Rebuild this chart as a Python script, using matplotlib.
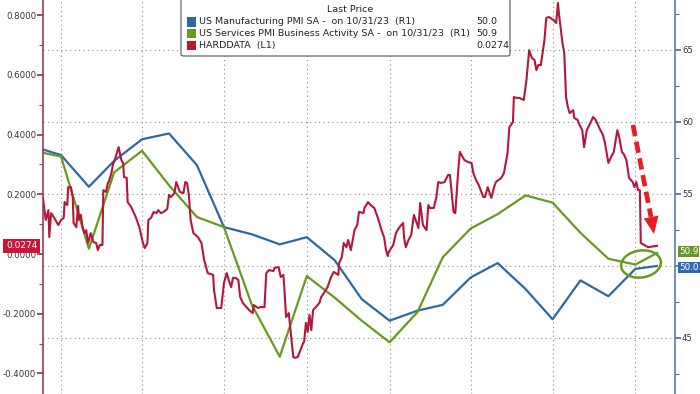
import matplotlib
matplotlib.use('Agg')
import matplotlib.pyplot as plt
import matplotlib.patches as mpatches
from matplotlib.lines import Line2D
from matplotlib.ticker import FormatStrFormatter, MultipleLocator
from matplotlib.transforms import IdentityTransform
import pandas as pd

plt.rcParams['font.family'] = ['DejaVu Sans']

# monthly PMI readings (latest flash plotted on its release day)
pmi_dates = ['2021-11-30', '2021-12-31', '2022-01-31', '2022-02-28', '2022-03-31',
             '2022-04-30', '2022-05-31', '2022-06-30', '2022-07-31', '2022-08-31',
             '2022-09-30', '2022-10-31', '2022-11-30', '2022-12-31', '2023-01-31',
             '2023-02-28', '2023-03-31', '2023-04-30', '2023-05-31', '2023-06-30',
             '2023-07-31', '2023-08-31', '2023-09-30', '2023-10-24']
mfg_pmi = [58.3, 57.7, 55.5, 57.3, 58.8, 59.2, 57.0, 52.7, 52.2, 51.5, 52.0, 50.4,
           47.7, 46.2, 46.9, 47.3, 49.2, 50.2, 48.4, 46.3, 49.0, 47.9, 49.8, 50.0]
svc_pmi = [58.0, 57.6, 51.2, 56.5, 58.0, 55.6, 53.4, 52.7, 47.3, 43.7, 49.3, 47.8,
           46.2, 44.7, 46.8, 50.6, 52.6, 53.6, 54.9, 54.4, 52.3, 50.5, 50.1, 50.9]

# HARDDATA index, days counted from 2021-12-11
hard_start = '2021-12-11'
hard_day = [0, 3, 6, 7, 9, 12, 17, 20, 23, 24,
            27, 28, 31, 33, 34, 37, 39, 40, 42, 44,
            46, 48, 50, 53, 56, 59, 61, 63, 66, 67,
            70, 72, 73, 76, 78, 79, 82, 84, 87, 89,
            90, 93, 94, 98, 103, 107, 111, 113, 116, 117,
            120, 123, 126, 128, 131, 134, 138, 140, 142, 146,
            148, 150, 152, 156, 158, 160, 162, 164, 167, 172,
            176, 179, 183, 189, 190, 193, 198, 201, 204, 207,
            209, 211, 214, 217, 219, 222, 226, 229, 233, 234,
            239, 241, 246, 248, 251, 256, 257, 261, 262, 264,
            267, 268, 270, 272, 273, 276, 278, 280, 283, 286,
            289, 290, 292, 294, 296, 298, 300, 303, 307, 309,
            312, 316, 318, 320, 323, 328, 329, 332, 334, 337,
            339, 342, 346, 349, 351, 356, 357, 361, 364, 368,
            372, 376, 379, 381, 383, 384, 389, 392, 396, 400,
            401, 403, 406, 409, 412, 417, 419, 422, 426, 428,
            430, 434, 437, 439, 442, 446, 450, 452, 456, 458,
            461, 463, 468, 472, 476, 478, 481, 484, 489, 491,
            494, 498, 501, 503, 509, 512, 516, 518, 522, 523,
            526, 529, 534, 537, 540, 543, 546, 548, 550, 553,
            557, 559, 562, 567, 570, 572, 573, 577, 579, 581,
            583, 585, 589, 590, 594, 595, 599, 601, 604, 608,
            611, 614, 618, 622, 624, 628, 631, 634, 638, 640,
            643, 645, 648, 651, 655, 657, 659, 661, 663, 664,
            668, 672, 682]
hard_val = [.188, .114, .147, .057, .137, .124, .097, .114, .121, .174,
            .164, .224, .224, .191, .104, .090, .161, .114, .131, .090,
            .070, .080, .037, .070, .040, .037, .013, .030, .030, .214,
            .208, .238, .241, .271, .305, .308, .338, .358, .315, .305,
            .258, .255, .174, .157, .124, .090, .037, .020, .037, .114,
            .121, .141, .137, .147, .137, .141, .151, .198, .191, .204,
            .241, .224, .208, .204, .241, .238, .198, .114, .070, .057,
            .037, -.020, -.064, -.070, -.121, -.181, -.181, -.097, -.064, -.094,
            -.111, -.080, -.080, -.087, -.144, -.164, -.178, -.188, -.198, -.171,
            -.181, -.178, -.178, -.064, -.054, -.057, -.047, -.044, -.047, -.077,
            -.070, -.111, -.211, -.204, -.198, -.288, -.345, -.348, -.345, -.322,
            -.298, -.295, -.231, -.261, -.204, -.255, -.188, -.178, -.164, -.144,
            -.131, -.111, -.094, -.077, -.060, -.070, -.030, -.010, .037, .023,
            .047, .013, .080, .097, .141, .137, .154, .174, .164, .154,
            .121, .080, .054, .013, -.007, .007, .030, .070, .090, .104,
            .057, .023, .047, .064, .131, .087, .171, .097, .080, .164,
            .154, .154, .191, .241, .238, .241, .265, .265, .141, .137,
            .271, .342, .315, .308, .305, .271, .248, .231, .191, .191,
            .224, .188, .224, .241, .255, .271, .338, .425, .442, .526,
            .523, .523, .516, .583, .683, .657, .650, .616, .633, .633,
            .717, .791, .794, .784, .774, .841, .807, .707, .673, .526,
            .492, .472, .482, .456, .449, .439, .415, .358, .415, .439,
            .459, .449, .422, .399, .375, .305, .325, .342, .415, .392,
            .342, .335, .315, .255, .241, .224, .241, .214, .214, .037,
            .030, .023, .0274]

grid_dates = ['2021-12-31', '2022-03-31', '2022-06-30', '2022-09-30',
              '2022-12-31', '2023-03-31', '2023-06-30', '2023-09-30']
right_ticks = [45, 50, 55, 60, 65]
right_labels = ['45', '', '55', '60', '65']  # "50" sits under the last-value tag

BLUE = '#2f68a0'
GREEN = '#679a1e'
RED = '#b3183a'

pmi_x = pd.to_datetime(pmi_dates)
hard_x = pd.Timestamp(hard_start) + pd.to_timedelta(hard_day, unit='D')

fig = plt.figure(figsize=(7, 3.94), dpi=100)
ax = fig.add_axes([43 / 700, 0, 632 / 700, 1])
axl = ax.twinx()
ax.yaxis.tick_right()
axl.yaxis.tick_left()

# PMI lines on the right scale
ax.plot(pmi_x, mfg_pmi, color=BLUE, lw=1.6)
ax.plot(pmi_x, svc_pmi, color=GREEN, lw=1.6)
ax.set_ylim(41.11, 68.47)
ax.set_yticks(right_ticks)
ax.set_yticklabels(right_labels)
ax.yaxis.set_minor_locator(MultipleLocator(2.5))
ax.set_xticks(pd.to_datetime(grid_dates))
ax.set_xlim(pd.Timestamp('2021-12-11'), pd.Timestamp('2023-11-13'))
ax.grid(True, which='major', linestyle=(0, (1, 3)), color='#8a8a8a', lw=0.8)
ax.tick_params(axis='x', length=0, labelbottom=False)
ax.tick_params(axis='y', which='major', direction='out', length=4, width=1.3,
               color='#4f74a3', labelsize=6.2, labelcolor='#333333', pad=1)
ax.tick_params(axis='y', which='minor', direction='out', length=3, width=0.8,
               color='#4f74a3')

# HARDDATA on the left scale
axl.plot(hard_x, hard_val, color=RED, lw=1.5)
axl.set_ylim(-0.469, 0.851)
axl.set_yticks([-0.4, -0.2, 0.0, 0.2, 0.4, 0.6, 0.8])
axl.yaxis.set_minor_locator(MultipleLocator(0.1))
axl.yaxis.set_major_formatter(FormatStrFormatter('%.4f'))
axl.tick_params(axis='y', which='major', direction='out', length=4, width=1.3,
                color='#9b3b5a', labelsize=6.2, labelcolor='#333333', pad=1)
axl.tick_params(axis='y', which='minor', direction='out', length=3, width=0.8,
                color='#9b3b5a')

for s in ['left', 'top', 'bottom']:
    ax.spines[s].set_visible(False)
for s in ['right', 'top', 'bottom']:
    axl.spines[s].set_visible(False)
ax.spines['right'].set_color('#5b7ea8')
ax.spines['right'].set_linewidth(1.2)
axl.spines['left'].set_color('#9b3b5a')
axl.spines['left'].set_linewidth(1.2)

# last-value tags
axl.annotate('0.0274', xy=(0, hard_val[-1]), xycoords=('axes fraction', 'data'),
             xytext=(-4, 0), textcoords='offset points', ha='right', va='center',
             color='white', fontsize=6.5,
             bbox=dict(boxstyle='square,pad=0.3', fc='#c8173a', ec='none'))
ax.annotate('%.1f' % svc_pmi[-1], xy=(1, svc_pmi[-1]), xycoords=('axes fraction', 'data'),
            xytext=(3, 1), textcoords='offset points', ha='left', va='center',
            color='white', fontsize=6.3,
            bbox=dict(boxstyle='square,pad=0.1', fc='#6a9a22', ec='none'))
ax.annotate('%.1f' % mfg_pmi[-1], xy=(1, mfg_pmi[-1]), xycoords=('axes fraction', 'data'),
            xytext=(3, -1), textcoords='offset points', ha='left', va='center',
            color='white', fontsize=6.3,
            bbox=dict(boxstyle='square,pad=0.1', fc='#2e6bb0', ec='none'))


def px(x, y):
    return x / 700, 1 - y / 394


# legend box
lx, ly = px(181, 56)
box = mpatches.FancyBboxPatch((lx, ly), 329 / 700, 70 / 394, transform=fig.transFigure,
                              boxstyle='round,pad=0,rounding_size=0.004',
                              fc='white', ec='#555555', lw=0.8, zorder=10)
fig.add_artist(box)
fig.text(*px(350, 10), 'Last Price', ha='center', va='center', fontsize=6.8,
         color='#222222', zorder=11)
rows = [('US Manufacturing PMI SA -  on 10/31/23  (R1)', '50.0', BLUE),
        ('US Services PMI Business Activity SA -  on 10/31/23  (R1)', '50.9', GREEN),
        ('HARDDATA  (L1)', '0.0274', '#c0142f')]
for i, (lab, val, c) in enumerate(rows):
    yy = 22 + i * 11.7
    sx, sy = px(187, yy + 4.5)
    fig.add_artist(mpatches.Rectangle((sx, sy), 9 / 700, 9 / 394, transform=fig.transFigure,
                                      fc=c, ec='none', zorder=11))
    fig.text(*px(199, yy), lab, ha='left', va='center', fontsize=6.8,
             color='#222222', zorder=11)
    fig.text(*px(476, yy), val, ha='left', va='center', fontsize=6.8,
             color='#222222', zorder=11)

# dashed red arrow and green circle
x0, y0 = px(633, 125)
x1, y1 = px(651.0, 217.0)
fig.add_artist(Line2D([x0, x1], [y0, y1], transform=fig.transFigure, color='#ea1d27',
                      lw=3.4, linestyle=(0, (2.4, 1.2)), solid_capstyle='butt', zorder=12))
fig.add_artist(mpatches.Polygon([px(658.5, 215.5), px(643.8, 218.5), px(654, 234)],
                                closed=True, transform=fig.transFigure,
                                fc='#ea1d27', ec='none', zorder=12))
fig.add_artist(mpatches.Ellipse((641, 394 - 264), 40, 27, angle=8,
                                transform=IdentityTransform(), fill=False,
                                ec='#6a9a22', lw=1.8, zorder=12))

fig.savefig('out.png', dpi=100)
